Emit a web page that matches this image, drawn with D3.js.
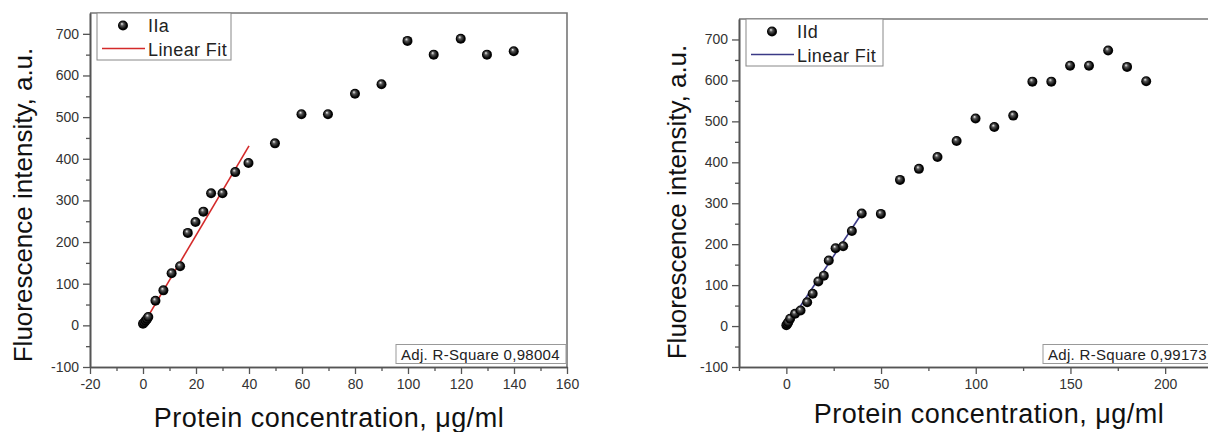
<!DOCTYPE html>
<html>
<head>
<meta charset="utf-8">
<script src="https://cdn.jsdelivr.net/npm/d3@7"></script>
<style>
  body { margin: 0; background: #fff; }
  svg { display: block; font-family: "Liberation Sans", Arial, sans-serif; }
</style>
</head>
<body>
<div id="chart"></div>
<script>
// panel a (IIa)
var concA = [0, 0.5, 1, 1.5, 2, 4.7, 7.7, 10.8, 14, 16.9, 19.8, 22.8, 25.7, 30, 34.8, 39.8, 49.8, 59.8, 69.8, 80, 90, 99.8, 109.7, 119.9, 129.8, 139.9]
var fluoA = [4, 7, 11, 15, 20, 59, 84, 125, 142, 222, 248, 273, 317, 317, 368, 390, 437, 507, 507, 556, 579, 683, 650, 688, 650, 658]
var fitA_x = [0, 40]
var fitA_y = [1, 431]
var r2A = "Adj. R-Square 0,98004"
var xTicksA = [-20, 0, 20, 40, 60, 80, 100, 120, 140, 160]

// panel d (IId)
var concD = [0, 0.5, 1, 2, 4.6, 7.5, 11, 13.9, 16.9, 19.8, 22.4, 26, 30, 34.6, 39.8, 49.9, 60, 70, 79.8, 89.9, 99.9, 109.8, 119.8, 129.9, 139.9, 149.8, 159.8, 169.9, 179.9, 190]
var fluoD = [2, 5, 9, 18, 30, 38, 58, 79, 109, 123, 160, 190, 195, 232, 275, 274, 357, 384, 413, 452, 507, 486, 514, 597, 597, 636, 636, 673, 633, 598]
var fitD_x = [0, 40]
var fitD_y = [-3, 276]
var r2D = "Adj. R-Square 0,99173"
var xTicksD = [0, 50, 100, 150, 200]

var yTicks = [-100, 0, 100, 200, 300, 400, 500, 600, 700]

var svg = d3.select("#chart").append("svg")
  .attr("width", 1208)
  .attr("height", 432)

// shiny ball marker
var grad = svg.append("defs").append("radialGradient")
  .attr("id", "ball")
  .attr("cx", "50%").attr("cy", "50%").attr("r", "55%")
  .attr("fx", "38%").attr("fy", "32%")
grad.append("stop").attr("offset", "0%").attr("stop-color", "#f4f4f4")
grad.append("stop").attr("offset", "30%").attr("stop-color", "#555")
grad.append("stop").attr("offset", "75%").attr("stop-color", "#000")
grad.append("stop").attr("offset", "100%").attr("stop-color", "#111")

// plain hyphen for negatives, like the original
var fmt = function (d) { return String(d) }

function drawPanel(p) {
  var x = d3.scaleLinear().domain(p.xDomain).range([p.left, p.right])
  var y = d3.scaleLinear().domain([-100, 750]).range([p.bottom, p.top])
  var g = svg.append("g")

  // frame (top / right)
  g.append("path")
    .attr("d", "M" + p.left + "," + p.top + "H" + p.right + "V" + p.bottom)
    .attr("fill", "none")
    .attr("stroke", "#777")
    .attr("stroke-width", 1.6)

  // minor ticks first
  var minorX = d3.axisBottom(x).tickValues(p.minorX).tickSize(4).tickFormat("").tickSizeOuter(0)
  var minorY = d3.axisLeft(y).tickValues(d3.range(-50, 750, 100)).tickSize(4).tickFormat("").tickSizeOuter(0)
  g.append("g").attr("transform", "translate(0," + p.bottom + ")").call(minorX)
  g.append("g").attr("transform", "translate(" + p.left + ",0)").call(minorY)

  g.append("g")
    .attr("transform", "translate(0," + p.bottom + ")")
    .call(d3.axisBottom(x).tickValues(p.xTicks).tickFormat(fmt).tickSize(7).tickSizeOuter(0).tickPadding(5))
  g.append("g")
    .attr("transform", "translate(" + p.left + ",0)")
    .call(d3.axisLeft(y).tickValues(yTicks).tickFormat(fmt).tickSize(7).tickSizeOuter(0).tickPadding(4))

  g.selectAll(".domain").attr("stroke", "#555").attr("stroke-width", 1.6)
  g.selectAll(".tick line").attr("stroke", "#555").attr("stroke-width", 1.3)
  g.selectAll(".tick text")
    .attr("fill", "#333")
    .style("font-size", "14px")
    .style("font-family", "'Liberation Sans', Arial, sans-serif")

  // fit line
  g.append("line")
    .attr("x1", x(p.fitX[0])).attr("y1", y(p.fitY[0]))
    .attr("x2", x(p.fitX[1])).attr("y2", y(p.fitY[1]))
    .attr("stroke", p.fitColor)
    .attr("stroke-width", 1.6)

  // points
  g.selectAll("circle.pt")
    .data(p.xs)
    .enter()
    .append("circle")
    .attr("class", "pt")
    .attr("cx", function (d) { return x(d) })
    .attr("cy", function (d, i) { return y(p.ys[i]) })
    .attr("r", 5)
    .attr("fill", "url(#ball)")

  // legend
  var lg = g.append("g").attr("transform", "translate(" + p.legX + "," + p.top + ")")
  lg.append("rect")
    .attr("x", 0).attr("y", 0)
    .attr("width", p.legW).attr("height", 47)
    .attr("fill", "#fff")
    .attr("stroke", "#888")
    .attr("stroke-width", 1)
  lg.append("circle").attr("cx", 26).attr("cy", 12.5).attr("r", 5).attr("fill", "url(#ball)")
  lg.append("text").attr("x", 51).attr("y", 19)
    .style("font-size", "18px").style("letter-spacing", "0.4px").attr("fill", "#222").text(p.name)
  lg.append("line").attr("x1", 5).attr("x2", 48).attr("y1", 35.5).attr("y2", 35.5)
    .attr("stroke", p.fitColor).attr("stroke-width", 1.6)
  lg.append("text").attr("x", 51).attr("y", 42.5)
    .style("font-size", "18px").style("letter-spacing", "0.4px").attr("fill", "#222").text("Linear Fit")

  // R-square box
  var rb = g.append("g").attr("transform", "translate(" + p.r2X + "," + (p.bottom - 22.5) + ")")
  rb.append("rect")
    .attr("width", 170).attr("height", 19)
    .attr("fill", "#fff").attr("stroke", "#999").attr("stroke-width", 1)
  rb.append("text").attr("x", 5).attr("y", 15)
    .style("font-size", "15px").style("letter-spacing", "0.3px").attr("fill", "#222").text(p.r2)

  // axis titles
  g.append("text")
    .attr("transform", "translate(" + p.yTitleX + "," + p.yTitleY + ") rotate(-90)")
    .attr("text-anchor", "middle")
    .style("font-size", "26px")
    .attr("fill", "#111")
    .text("Fluorescence intensity, a.u.")
  g.append("text")
    .attr("x", p.xTitleX).attr("y", p.xTitleY)
    .attr("text-anchor", "middle")
    .style("font-size", "27px")
    .style("letter-spacing", "0.5px")
    .attr("fill", "#111")
    .text("Protein concentration, \u03bcg/ml")
}

drawPanel({
  xDomain: [-20, 160], left: 90, right: 567, top: 13, bottom: 367,
  xTicks: xTicksA, minorX: d3.range(-10, 160, 20),
  xs: concA, ys: fluoA, fitX: fitA_x, fitY: fitA_y, fitColor: "#d42a2a",
  name: "IIa", legX: 97, legW: 134, r2: r2A, r2X: 396,
  yTitleX: 32, yTitleY: 205, xTitleX: 329, xTitleY: 427
})

drawPanel({
  xDomain: [-25, 225], left: 739, right: 1212.5, top: 19, bottom: 367,
  xTicks: xTicksD, minorX: d3.range(-25, 225, 50),
  xs: concD, ys: fluoD, fitX: fitD_x, fitY: fitD_y, fitColor: "#3b3a86",
  name: "IId", legX: 746, legW: 137, r2: r2D, r2X: 1043,
  yTitleX: 686, yTitleY: 202, xTitleX: 989, xTitleY: 423
})
</script>
</body>
</html>
